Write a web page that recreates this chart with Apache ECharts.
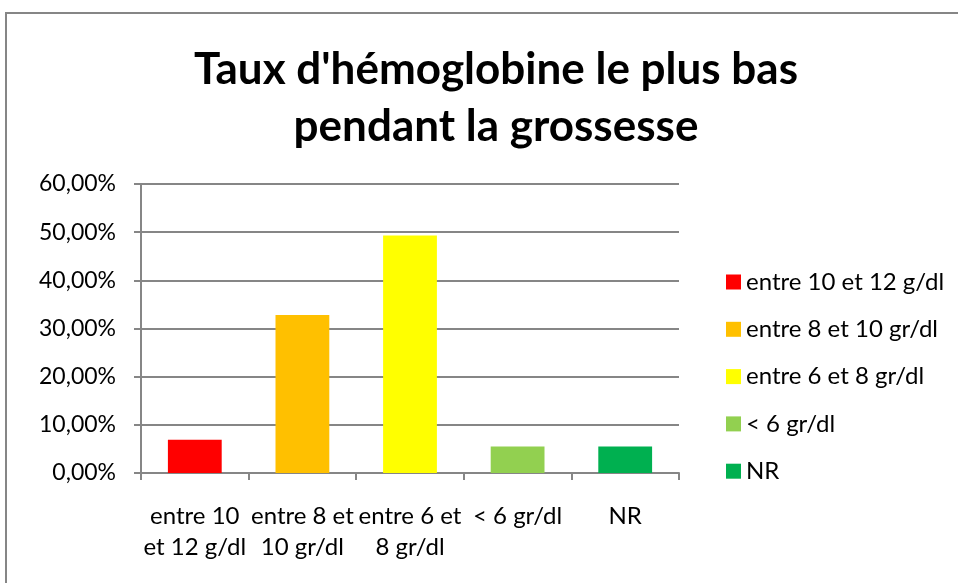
<!DOCTYPE html>
<html><head><meta charset="utf-8">
<script src="https://cdn.jsdelivr.net/npm/echarts@6/dist/echarts.min.js"></script>
<style>html,body{margin:0;padding:0;background:#fff}#c{width:958px;height:583px}</style>
</head><body><div id="c"></div>
<script>
const titleText = "Taux d'hémoglobine le plus bas\npendant la grossesse";
const categories = ["entre 10 et 12 g/dl", "entre 8 et 10 gr/dl", "entre 6 et 8 gr/dl", "< 6 gr/dl", "NR"];
const axisLabels = ["entre 10\net 12 g/dl", "entre 8 et\n10 gr/dl", "entre 6 et\n8 gr/dl", "< 6 gr/dl", "NR"];
const values = [6.9, 32.8, 49.3, 5.5, 5.5];
const colors = ["#FF0000", "#FFC000", "#FFFF00", "#92D050", "#00B050"];
const yTicks = { min: 0, max: 60, interval: 10 };

const FONT = "Lato";
const chart = echarts.init(document.getElementById('c'), null, {renderer: 'canvas'});
const series = categories.map((name, i) => ({
  name: name,
  type: 'bar',
  stack: 'all',
  barWidth: '50%',
  itemStyle: { color: colors[i] },
  data: values.map((v, j) => (j === i ? v : null))
}));
chart.setOption({
  backgroundColor: '#fff',
  animation: false,
  graphic: [{
    type: 'rect', shape: { x: 6, y: 13, width: 1000, height: 700 },
    style: { fill: 'none', stroke: '#868686', lineWidth: 2 }, silent: true, z: -1
  }],
  title: {
    text: titleText, left: 491, top: 36, textAlign: 'center',
    textStyle: { fontFamily: FONT, fontWeight: 'bold', fontSize: 44, lineHeight: 57, color: '#000' }
  },
  legend: {
    orient: 'vertical', left: 721, top: 265, itemGap: 23.3,
    itemWidth: 15, itemHeight: 15, icon: 'rect',
    textStyle: { fontFamily: FONT, fontSize: 24, lineHeight: 24, color: '#000', padding: [0, 0, 0, 0] },
    data: categories
  },
  grid: { left: 141, right: 279, top: 184, bottom: 110 },
  xAxis: {
    type: 'category', data: axisLabels,
    axisLine: { lineStyle: { color: '#868686', width: 2 } },
    axisTick: { show: true, length: 7, lineStyle: { color: '#868686', width: 2 } },
    axisLabel: { fontFamily: FONT, fontSize: 24, color: '#000', lineHeight: 31, margin: 28, interval: 0 }
  },
  yAxis: {
    type: 'value', min: yTicks.min, max: yTicks.max, interval: yTicks.interval,
    axisLine: { show: true, lineStyle: { color: '#868686', width: 2 } },
    axisTick: { show: true, length: 7, lineStyle: { color: '#868686', width: 2 } },
    splitLine: { lineStyle: { color: '#868686', width: 2 } },
    axisLabel: { fontFamily: FONT, fontSize: 23, color: '#000', margin: 25,
      formatter: v => v.toFixed(2).replace('.', ',') + '%' }
  },
  series: series
});
</script></body></html>
